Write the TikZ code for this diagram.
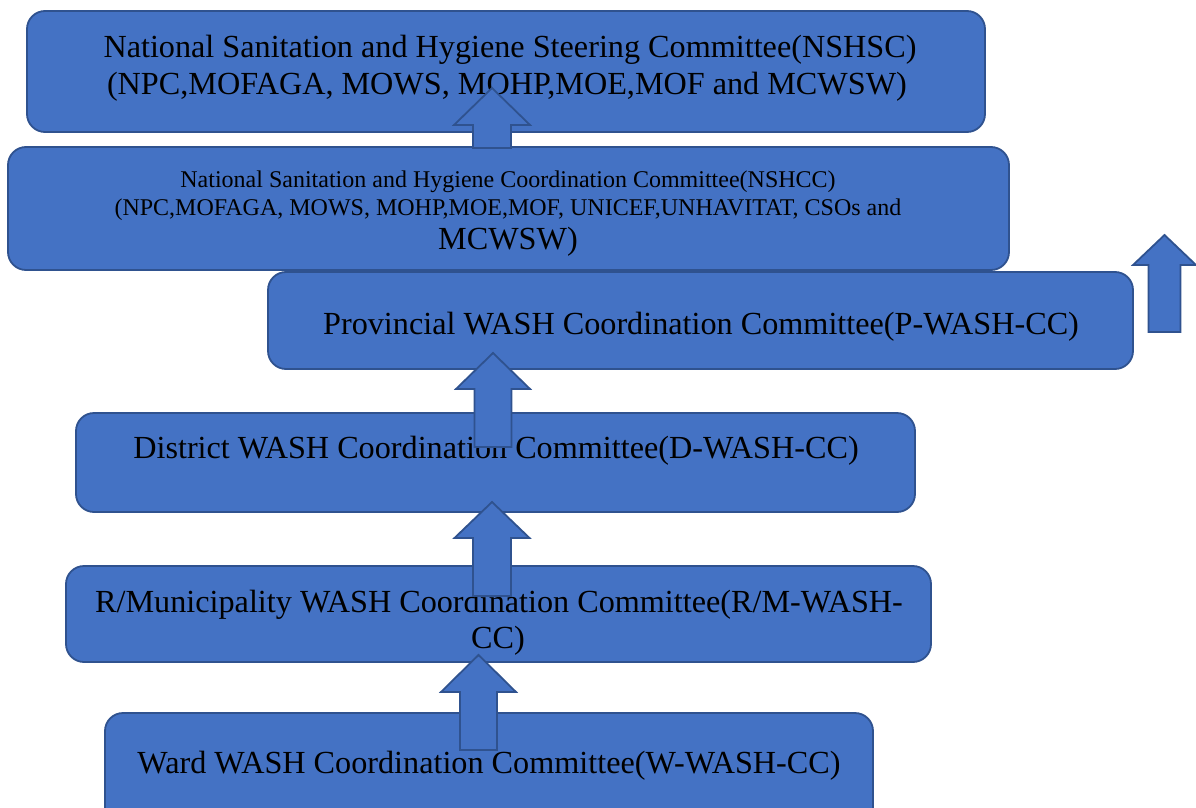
\documentclass[tikz,border=0pt]{standalone}
\usepackage{fontspec}
\setmainfont{Liberation Serif}
\definecolor{boxfill}{HTML}{4472C4}
\definecolor{boxline}{HTML}{2F528F}
\begin{document}
\begin{tikzpicture}[x=1pt,y=-1pt,
  box/.style={draw=boxline, fill=boxfill, line width=1.8pt, rounded corners=18pt,
    rectangle, inner sep=0pt, outer sep=0pt},
  big/.style={inner sep=0pt, anchor=base, font=\fontsize{32.2}{37}\selectfont},
  small/.style={inner sep=0pt, anchor=base, font=\fontsize{24}{28}\selectfont},
  blockarrow/.style={draw=boxline, fill=boxfill, line width=1.8pt, line join=miter},
  pics/uparrow/.style args={#1/#2/#3/#4}{code={
    \path[blockarrow] (0,0) -- (#1,#3) -- (#2,#3) -- (#2,#4) -- (-#2,#4)
      -- (-#2,#3) -- (-#1,#3) -- cycle;
  }}]
\useasboundingbox (0,0) rectangle (1196,808);
\clip (0,0) rectangle (1196,808);

% committee boxes, top to bottom
\node[box, minimum width=958pt, minimum height=121pt] (nshsc) at (506,71.5) {};
\node[box, minimum width=1001pt, minimum height=123pt] (nshcc) at (508.5,208.5) {};
\node[box, minimum width=865pt, minimum height=97pt] (prov) at (700.5,320.5) {};
\node[box, minimum width=839pt, minimum height=99pt] (dist) at (495.5,462.5) {};
\node[box, minimum width=865pt, minimum height=96pt] (rm) at (498.5,614) {};
\node[box, minimum width=768pt, minimum height=117pt] (ward) at (489,771.5) {};

% labels
\node[big] (nshsc1) at (510,57) {National Sanitation and Hygiene Steering Committee(NSHSC)};
\node[big] (nshsc2) at (507,94) {(NPC,MOFAGA, MOWS, MOHP,MOE,MOF and MCWSW)};
\node[small] (nshcc1) at (508,187) {National Sanitation and Hygiene Coordination Committee(NSHCC)};
\node[small] (nshcc2) at (508,215) {(NPC,MOFAGA, MOWS, MOHP,MOE,MOF, UNICEF,UNHAVITAT, CSOs and};
\node[big] (nshcc3) at (508,249) {MCWSW)};
\node[big] (provt) at (701,334) {Provincial WASH Coordination Committee(P-WASH-CC)};
\node[big] (distt) at (496,458) {District WASH Coordination Committee(D-WASH-CC)};
\node[big] (rmt1) at (499,612) {R/Municipality WASH Coordination Committee(R/M-WASH-};
\node[big] (rmt2) at (498,648) {CC)};
\node[big] (wardt) at (489,773) {Ward WASH Coordination Committee(W-WASH-CC)};

% upward block arrows: head half-width / shaft half-width / head length / total length
\pic at (492,88) {uparrow={38/19/37/60}};
\pic at (493,353) {uparrow={37/18.5/36/94}};
\pic at (492,502) {uparrow={37.5/19/36/94}};
\pic at (478.5,655) {uparrow={37.5/18.5/37/95}};
\pic at (1164.5,235) {uparrow={31.5/16/30/97}};
\end{tikzpicture}
\end{document}
